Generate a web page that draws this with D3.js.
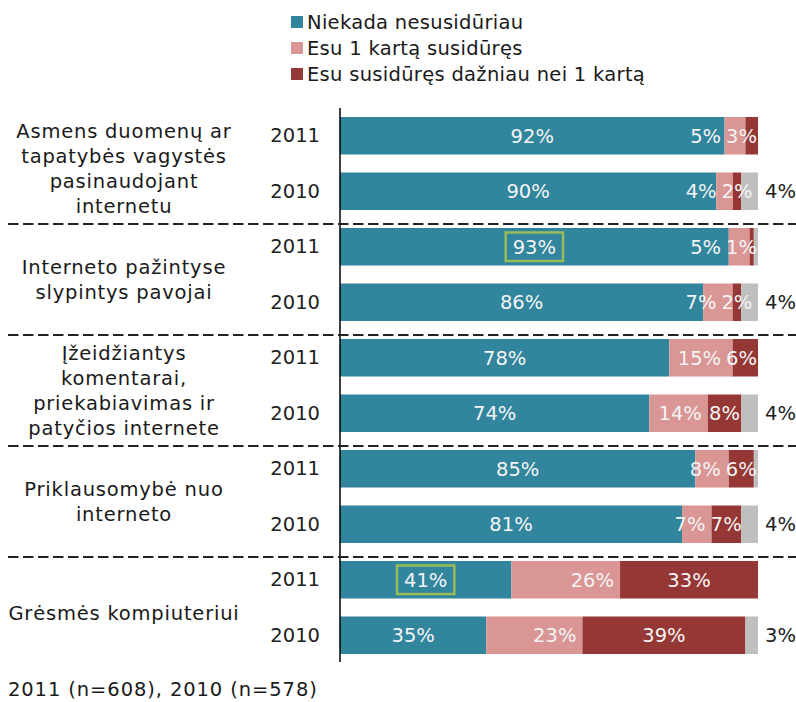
<!DOCTYPE html>
<html>
<head>
<meta charset="utf-8">
<script src="https://cdn.jsdelivr.net/npm/d3@7"></script>
<style>
  html, body { margin: 0; padding: 0; background: #fff; }
  svg { display: block; font-family: Verdana, "DejaVu Sans", sans-serif; }
</style>
</head>
<body>
<svg id="chart" width="796" height="702"></svg>
<script>
// Threat categories (label lines) and survey years
const categories = [
  ["Asmens duomenų ar", "tapatybės vagystės", "pasinaudojant", "internetu"],
  ["Interneto pažintyse", "slypintys pavojai"],
  ["Įžeidžiantys", "komentarai,", "priekabiavimas ir", "patyčios internete"],
  ["Priklausomybė nuo", "interneto"],
  ["Grėsmės kompiuteriui"]
];
const years = ["2011", "2010"];

// Series, one value per bar (category × year, 2011 first), in %
const seriesNames = ["Niekada nesusidūriau", "Esu 1 kartą susidūręs", "Esu susidūręs dažniau nei 1 kartą"];
const never = [92, 90, 93, 86, 78, 74, 85, 81, 41, 35];
const once  = [5, 4, 5, 7, 15, 14, 8, 7, 26, 23];
const more  = [3, 2, 1, 2, 6, 8, 6, 7, 33, 39];
const other = [0, 4, 1, 4, 0, 4, 1, 4, 0, 3];   // no answer
const highlighted = [2, 8];                      // bars whose first value is framed
const footnote = "2011 (n=608), 2010 (n=578)";

const colors = ["#31859c", "#d99694", "#953735", "#bfbfbf"];
const keys = ["never", "once", "more", "other"];
const FONT = 19.5;

const rows = never.map((v, i) => ({
  id: i, group: Math.floor(i / 2), year: years[i % 2],
  never: v, once: once[i], more: more[i], other: other[i]
}));

const svg = d3.select("#chart");
svg.append("rect").attr("width", 796).attr("height", 702).attr("fill", "#fff");

const x = d3.scaleLinear().domain([0, 1]).range([340, 758]);
const y = d3.scaleBand().domain(rows.map(d => d.id)).range([108, 663])
  .paddingInner(0.324).paddingOuter(0.162);

const stack = d3.stack().keys(keys).offset(d3.stackOffsetExpand);
const layers = stack(rows);

// Bars
svg.append("g").selectAll("g").data(layers).join("g")
  .attr("fill", (d, i) => colors[i])
  .selectAll("rect").data(d => d).join("rect")
  .attr("x", d => x(d[0]))
  .attr("y", d => y(d.data.id))
  .attr("width", d => Math.max(0, x(d[1]) - x(d[0])))
  .attr("height", y.bandwidth());

// Value labels
const lab = svg.append("g").attr("font-size", FONT);
rows.forEach((r, i) => {
  const cy = y(r.id) + y.bandwidth() / 2;
  const seg = k => { const s = layers[keys.indexOf(k)][i]; return [x(s[0]), x(s[1])]; };

  // dark segment: centred, kept inside the bar
  const [d0, d1] = seg("more");
  const tMore = lab.append("text").attr("fill", "#f4f4f4").attr("dy", "0.36em")
    .attr("text-anchor", "middle").text(r.more + "%");
  const wMore = tMore.node().getComputedTextLength();
  const cMore = Math.min((d0 + d1) / 2, x(1) - 1 - wMore / 2);
  tMore.attr("x", cMore).attr("y", cy);
  const moreLeft = cMore - wMore / 2;

  // light segment: inside end, pushed left of the dark label
  const [o0, o1] = seg("once");
  const endOnce = Math.min(o1 - 6, moreLeft - 5);
  lab.append("text").attr("fill", "#f4f4f4").attr("dy", "0.36em")
    .attr("text-anchor", "end").attr("x", endOnce).attr("y", cy)
    .text(r.once + "%");

  // first segment: centred
  const [n0, n1] = seg("never");
  const tNever = lab.append("text").attr("fill", "#f4f4f4").attr("dy", "0.36em")
    .attr("text-anchor", "middle").attr("x", (n0 + n1) / 2).attr("y", cy)
    .text(r.never + "%");

  if (highlighted.includes(r.id)) {
    const w = tNever.node().getComputedTextLength();
    svg.append("rect")
      .attr("x", (n0 + n1) / 2 - w / 2 - 7).attr("y", y(r.id) + 4.5)
      .attr("width", w + 14).attr("height", y.bandwidth() - 9)
      .attr("fill", "none").attr("stroke", "#9bbb59").attr("stroke-width", 2.5);
  }

  // no-answer share, outside the bar
  if (r.other >= 2) {
    lab.append("text").attr("fill", "#222").attr("dy", "0.36em")
      .attr("x", x(1) + 7).attr("y", cy).text(r.other + "%");
  }
});

// Axis with year labels
const axis = svg.append("g").attr("transform", `translate(${x(0)},0)`)
  .call(d3.axisLeft(y).tickSize(0).tickPadding(20).tickFormat(id => rows[id].year));
axis.select(".domain").attr("stroke", "#000").attr("stroke-width", 1.5)
  .attr("d", `M0,${y.range()[0]}V${y.range()[1] - 1}`);
axis.selectAll("text").attr("font-size", FONT).attr("fill", "#222")
  .attr("font-family", "Verdana, 'DejaVu Sans', sans-serif");

// Group separators
for (let g = 0; g < categories.length - 1; g++) {
  const sy = (y(2 * g + 1) + y.bandwidth() + y(2 * g + 2)) / 2 + 5;
  svg.append("line").attr("x1", 8).attr("x2", 796).attr("y1", sy).attr("y2", sy)
    .attr("stroke", "#222").attr("stroke-width", 2).attr("stroke-dasharray", "10.5,4.5");
}

// Category labels
const lineH = 25;
categories.forEach((lines, g) => {
  const cy = (y(2 * g) + y(2 * g + 1) + y.bandwidth()) / 2 + 5;
  const t = svg.append("text").attr("font-size", FONT).attr("fill", "#1a1a1a")
    .attr("letter-spacing", 0.8).attr("text-anchor", "middle");
  lines.forEach((ln, k) => {
    t.append("tspan").attr("x", 124)
      .attr("y", cy + (k - (lines.length - 1) / 2) * lineH)
      .attr("dy", "0.36em").text(ln);
  });
});

// Legend
const legend = svg.append("g").attr("font-size", FONT).attr("fill", "#1a1a1a")
  .attr("letter-spacing", 0.3);
seriesNames.forEach((name, i) => {
  const ly = 22 + i * 26;
  legend.append("rect").attr("x", 291).attr("y", ly - 6).attr("width", 12).attr("height", 12)
    .attr("fill", colors[i]);
  legend.append("text").attr("x", 307).attr("y", ly).attr("dy", "0.36em").text(name);
});

// Sample sizes
svg.append("text").attr("x", 8).attr("y", 689).attr("dy", "0.36em")
  .attr("font-size", FONT).attr("fill", "#1a1a1a").attr("letter-spacing", 0.9)
  .text(footnote);
</script>
</body>
</html>
